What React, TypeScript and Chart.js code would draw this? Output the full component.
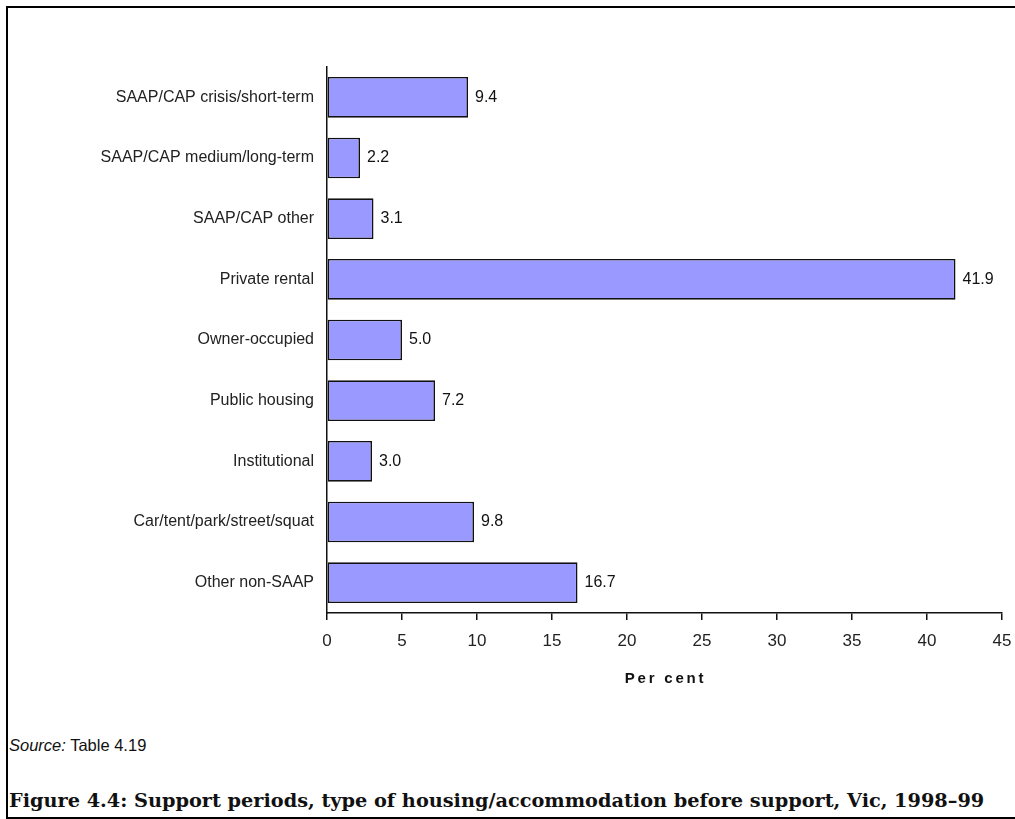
import React, { useEffect, useRef } from "react";
import { Chart, registerables } from "chart.js";

Chart.register(...registerables);

const categories: string[] = [
  "SAAP/CAP crisis/short-term",
  "SAAP/CAP medium/long-term",
  "SAAP/CAP other",
  "Private rental",
  "Owner-occupied",
  "Public housing",
  "Institutional",
  "Car/tent/park/street/squat",
  "Other non-SAAP",
];
const values: number[] = [9.4, 2.2, 3.1, 41.9, 5.0, 7.2, 3.0, 9.8, 16.7];
const xMin = 0;
const xMax = 45;
const xStep = 5;
const xTitle = "Per cent";
const sourceLabel = "Source:";
const sourceText = " Table 4.19";
const caption =
  "Figure 4.4: Support periods, type of housing/accommodation before support, Vic, 1998\u201399";

const SANS_W = "'Liberation Sans', Arial, sans-serif";

const valueLabelsPlugin = {
  id: "valueLabels",
  afterDatasetsDraw(chart: any) {
    const ctx = chart.ctx;
    const meta = chart.getDatasetMeta(0);
    ctx.save();
    ctx.font = "16px " + SANS_W;
    ctx.fillStyle = "#111";
    ctx.textAlign = "left";
    ctx.textBaseline = "middle";
    meta.data.forEach((el: any, i: number) => {
      ctx.fillText(values[i].toFixed(1), el.x + 7, el.y);
    });
    ctx.restore();
  },
};

const axisTitlePlugin = {
  id: "axisTitle",
  afterDraw(chart: any) {
    const ctx = chart.ctx;
    const xs = chart.scales.x;
    ctx.save();
    ctx.font = "bold 15px " + SANS_W;
    ctx.fillStyle = "#111";
    ctx.textAlign = "center";
    ctx.textBaseline = "middle";
    try {
      (ctx as any).letterSpacing = "2.8px";
    } catch (e) {}
    ctx.fillText(xTitle, (xs.left + xs.right) / 2 + 1, xs.top + 66);
    ctx.restore();
  },
};

export default function App() {
  const ref = useRef<HTMLCanvasElement | null>(null);

  useEffect(() => {
    if (!ref.current) return;
    const chart = new Chart(ref.current, {
      type: "bar",
      data: {
        labels: categories,
        datasets: [
          {
            data: values,
            backgroundColor: "#9999FF",
            borderColor: "#111",
            borderWidth: 1.6,
            borderSkipped: false,
            barPercentage: 0.67,
            categoryPercentage: 1,
          },
        ],
      },
      options: {
        indexAxis: "y",
        responsive: false,
        animation: false,
        layout: { padding: { top: 67, right: 13, left: 0, bottom: 0 } },
        plugins: {
          legend: { display: false },
          tooltip: { enabled: false },
        },
        scales: {
          y: {
            type: "category",
            grid: { display: false, drawTicks: false },
            border: { display: true, color: "#111", width: 1.5 },
            ticks: {
              padding: 13,
              color: "#222",
              font: { family: SANS_W, size: 16 },
            },
            afterFit: (scale: any) => {
              scale.width = 327;
            },
          },
          x: {
            type: "linear",
            min: xMin,
            max: xMax,
            grid: {
              drawOnChartArea: false,
              drawTicks: true,
              tickLength: 7,
              color: "#111",
              lineWidth: 1.5,
            },
            border: { display: true, color: "#111", width: 1.5 },
            ticks: {
              stepSize: xStep,
              padding: 11,
              color: "#222",
              font: { family: SANS_W, size: 17 },
            },
            afterFit: (scale: any) => {
              scale.height = 87;
              scale.paddingRight = 0;
              scale.paddingLeft = 0;
            },
          },
        },
      } as any,
      plugins: [valueLabelsPlugin, axisTitlePlugin],
    });
    return () => chart.destroy();
  }, []);

  return (
    <div
      style={{
        position: "absolute",
        left: 0,
        top: 0,
        width: 1015,
        height: 819,
        overflow: "hidden",
        background: "#fff",
      }}
    >
      <div
        style={{
          position: "absolute",
          left: 6,
          top: 6,
          width: 1200,
          height: 813,
          boxSizing: "border-box",
          borderLeft: "2px solid #000",
          borderTop: "2px solid #000",
          borderBottom: "2px solid #000",
        }}
      />
      <canvas
        ref={ref}
        width={1015}
        height={700}
        style={{ position: "absolute", left: 0, top: 0, width: 1015, height: 700 }}
      />
      <div
        style={{
          position: "absolute",
          left: 9,
          top: 735,
          fontFamily: SANS_W,
          fontSize: 16.5,
          lineHeight: "20px",
          color: "#111",
          whiteSpace: "nowrap",
        }}
      >
        <i>{sourceLabel}</i>
        {sourceText}
      </div>
      <div
        style={{
          position: "absolute",
          left: 9,
          top: 789,
          fontFamily: "'DejaVu Serif', serif",
          fontWeight: "bold",
          fontSize: 19.3,
          lineHeight: "24px",
          color: "#111",
          whiteSpace: "nowrap",
        }}
      >
        {caption}
      </div>
    </div>
  );
}
